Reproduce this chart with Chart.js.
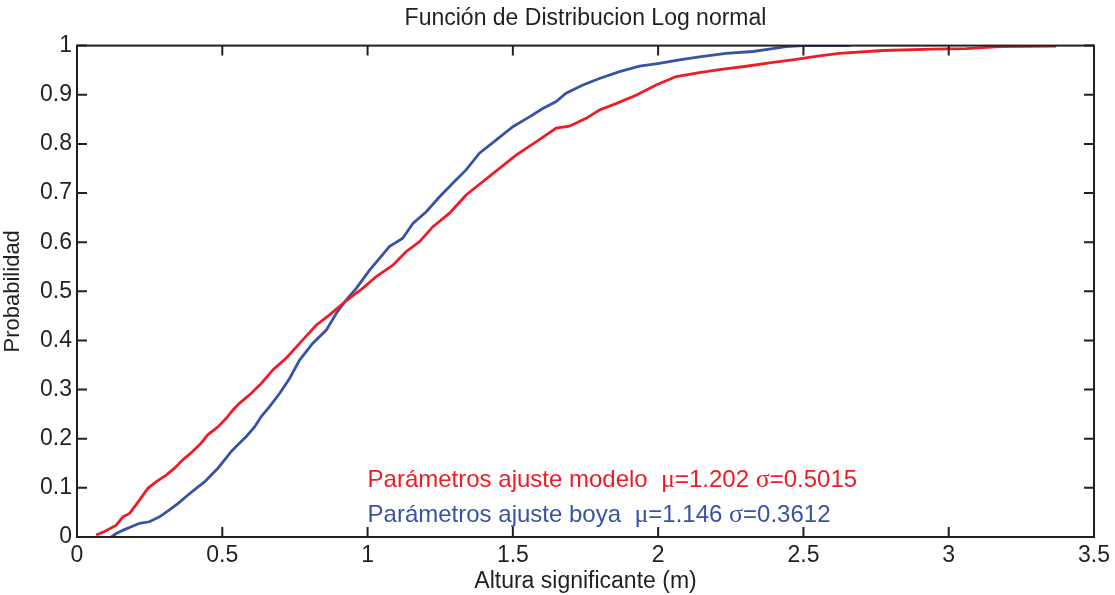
<!DOCTYPE html>
<html>
<head>
<meta charset="utf-8">
<script src="https://cdn.jsdelivr.net/npm/chart.js@4.4.1/dist/chart.umd.min.js"></script>
<style>
  html, body { margin: 0; padding: 0; background: #ffffff; }
  #wrap { width: 1115px; height: 595px; }
</style>
</head>
<body>
<div id="wrap"><canvas id="cdf" width="1115" height="595"></canvas></div>
<script>
// Empirical cumulative distribution of significant wave height (m)
// Model series
const modeloX = [0.066, 0.095, 0.135, 0.158, 0.181, 0.215, 0.244, 0.272, 0.307, 0.336,
  0.364, 0.398, 0.427, 0.450, 0.485, 0.513, 0.536, 0.559, 0.599, 0.635,
  0.674, 0.720, 0.766, 0.823, 0.869, 0.903, 0.938, 0.983, 1.030, 1.087,
  1.133, 1.179, 1.224, 1.282, 1.339, 1.396, 1.454, 1.511, 1.580, 1.649,
  1.695, 1.752, 1.798, 1.855, 1.924, 1.993, 2.062, 2.142, 2.211, 2.303,
  2.383, 2.463, 2.555, 2.624, 2.773, 2.945, 3.060, 3.174, 3.370];
const modeloY = [0.004, 0.011, 0.024, 0.041, 0.048, 0.075, 0.099, 0.112, 0.126, 0.140,
  0.157, 0.174, 0.191, 0.208, 0.224, 0.241, 0.258, 0.272, 0.292, 0.313,
  0.340, 0.364, 0.394, 0.431, 0.452, 0.469, 0.486, 0.506, 0.530, 0.553,
  0.581, 0.601, 0.631, 0.659, 0.696, 0.723, 0.750, 0.777, 0.804, 0.832,
  0.836, 0.852, 0.869, 0.882, 0.899, 0.920, 0.937, 0.945, 0.951, 0.958,
  0.965, 0.971, 0.979, 0.984, 0.990, 0.993, 0.994, 0.998, 0.999];

// Buoy series
const boyaX = [0.118, 0.135, 0.163, 0.187, 0.215, 0.249, 0.284, 0.318, 0.347, 0.381,
  0.410, 0.439, 0.462, 0.485, 0.508, 0.531, 0.559, 0.582, 0.611, 0.634,
  0.662, 0.697, 0.731, 0.766, 0.811, 0.858, 0.892, 0.926, 0.961, 1.007,
  1.041, 1.075, 1.121, 1.156, 1.202, 1.247, 1.293, 1.339, 1.385, 1.443,
  1.500, 1.557, 1.603, 1.649, 1.683, 1.741, 1.798, 1.867, 1.936, 2.004,
  2.073, 2.142, 2.234, 2.326, 2.383, 2.440, 2.498, 2.660];
const boyaY = [0.000, 0.007, 0.015, 0.021, 0.028, 0.031, 0.041, 0.055, 0.068, 0.085,
  0.099, 0.112, 0.126, 0.140, 0.157, 0.174, 0.191, 0.204, 0.224, 0.245,
  0.265, 0.292, 0.322, 0.360, 0.394, 0.421, 0.455, 0.482, 0.506, 0.543,
  0.567, 0.591, 0.608, 0.638, 0.662, 0.692, 0.720, 0.747, 0.781, 0.808,
  0.835, 0.855, 0.872, 0.886, 0.903, 0.920, 0.933, 0.947, 0.958, 0.964,
  0.971, 0.977, 0.984, 0.988, 0.993, 0.998, 1.000, 1.000];

// Axis tick labels
const xTicks = [0, 0.5, 1, 1.5, 2, 2.5, 3, 3.5];
const xTickLabels = ['0', '0.5', '1', '1.5', '2', '2.5', '3', '3.5'];
const yTicks = [0, 0.1, 0.2, 0.3, 0.4, 0.5, 0.6, 0.7, 0.8, 0.9, 1];
const yTickLabels = ['0', '0.1', '0.2', '0.3', '0.4', '0.5', '0.6', '0.7', '0.8', '0.9', '1'];

// Fitted log-normal parameters shown in the annotation
const modeloParams = { label: 'Parámetros ajuste modelo  ', mu: '1.202', sigma: '0.5015' };
const boyaParams = { label: 'Parámetros ajuste boya  ', mu: '1.146', sigma: '0.3612' };

const RED = '#ee1c25';
const BLUE = '#3953a4';
const INK = '#231f20';
const SANS = '"Liberation Sans", Arial, sans-serif';
const SERIF = '"Liberation Serif", "Times New Roman", serif';

const toPoints = (xs, ys) => xs.map((x, i) => ({ x: x, y: ys[i] }));

function labelFor(list, labels, v) {
  const i = list.findIndex(t => Math.abs(t - v) < 1e-9);
  return i >= 0 ? labels[i] : '';
}

// Frame around the plot with MATLAB-style inward ticks on all four sides
const framePlugin = {
  id: 'frame',
  afterDatasetsDraw(chart) {
    const { ctx, chartArea: a, scales } = chart;
    const len = 10;
    ctx.save();
    ctx.strokeStyle = INK;
    ctx.lineWidth = 2;
    ctx.beginPath();
    xTicks.forEach(v => {
      const px = scales.x.getPixelForValue(v);
      ctx.moveTo(px, a.bottom); ctx.lineTo(px, a.bottom - len);
      ctx.moveTo(px, a.top); ctx.lineTo(px, a.top + len);
    });
    yTicks.forEach(v => {
      const py = scales.y.getPixelForValue(v);
      ctx.moveTo(a.left, py); ctx.lineTo(a.left + len, py);
      ctx.moveTo(a.right, py); ctx.lineTo(a.right - len, py);
    });
    ctx.stroke();
    ctx.strokeRect(a.left, a.top, a.right - a.left, a.bottom - a.top);
    ctx.restore();
  }
};

// Two-line annotation with the fitted parameters
const paramsPlugin = {
  id: 'params',
  afterDatasetsDraw(chart) {
    const { ctx, scales } = chart;
    const rows = [
      { p: modeloParams, color: RED, y: 0.116 },
      { p: boyaParams, color: BLUE, y: 0.045 }
    ];
    ctx.save();
    ctx.textBaseline = 'middle';
    ctx.textAlign = 'left';
    rows.forEach(r => {
      let x = scales.x.getPixelForValue(1.0);
      const y = scales.y.getPixelForValue(r.y);
      ctx.fillStyle = r.color;
      const parts = [
        [r.p.label, SANS],
        ['\u03bc', SERIF],
        ['=' + r.p.mu + ' ', SANS],
        ['\u03c3', SERIF],
        ['=' + r.p.sigma, SANS]
      ];
      parts.forEach(([t, f]) => {
        ctx.font = (f === SERIF ? '26px ' : '24px ') + f;
        ctx.fillText(t, x, y);
        x += ctx.measureText(t).width;
      });
    });
    ctx.restore();
  }
};

new Chart(document.getElementById('cdf'), {
  type: 'scatter',
  data: {
    datasets: [
      {
        label: 'Modelo',
        data: toPoints(modeloX, modeloY),
        showLine: true,
        borderColor: RED,
        borderWidth: 2.8,
        pointRadius: 0,
        tension: 0
      },
      {
        label: 'Boya',
        data: toPoints(boyaX, boyaY),
        showLine: true,
        borderColor: BLUE,
        borderWidth: 2.8,
        pointRadius: 0,
        tension: 0
      }
    ]
  },
  options: {
    responsive: false,
    animation: false,
    layout: { padding: { left: 0, right: 20, top: 0, bottom: 0 } },
    plugins: {
      legend: { display: false },
      tooltip: { enabled: false },
      title: {
        display: true,
        text: 'Función de Distribucion Log normal',
        color: INK,
        fullSize: false,
        font: { family: SANS, size: 23, weight: 'normal', lineHeight: 1.2 },
        padding: { top: 5, bottom: 13 }
      }
    },
    scales: {
      x: {
        type: 'linear',
        min: 0,
        max: 3.5,
        afterBuildTicks(scale) { scale.ticks = xTicks.map(v => ({ value: v })); },
        afterFit(scale) { scale.height = 58; },
        grid: { display: false, drawTicks: false },
        border: { display: false },
        ticks: {
          color: INK,
          padding: 5,
          maxRotation: 0,
          font: { family: SANS, size: 23 },
          callback: v => labelFor(xTicks, xTickLabels, v)
        },
        title: {
          display: true,
          text: 'Altura significante (m)',
          color: INK,
          font: { family: SANS, size: 23 },
          padding: { top: 0, bottom: 0 }
        }
      },
      y: {
        type: 'linear',
        min: 0,
        max: 1,
        afterBuildTicks(scale) { scale.ticks = yTicks.map(v => ({ value: v })); },
        afterFit(scale) { scale.width = 77; },
        grid: { display: false, drawTicks: false },
        border: { display: false },
        ticks: {
          color: INK,
          padding: 5,
          font: { family: SANS, size: 23 },
          callback: v => labelFor(yTicks, yTickLabels, v)
        },
        title: {
          display: true,
          text: 'Probabilidad',
          color: INK,
          font: { family: SANS, size: 22 },
          padding: { top: 0, bottom: 0 }
        }
      }
    }
  },
  plugins: [framePlugin, paramsPlugin]
});
</script>
</body>
</html>
